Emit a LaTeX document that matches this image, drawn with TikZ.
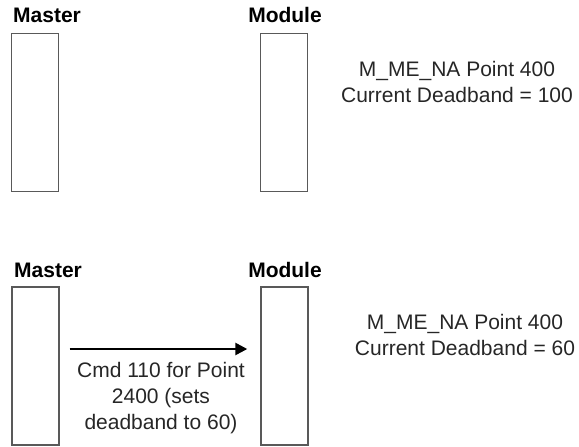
\documentclass[tikz,border=0pt]{standalone}
\usepackage{fontspec}
\setmainfont{Liberation Sans}
\usetikzlibrary{arrows.meta}

\begin{document}
\begin{tikzpicture}[x=1pt,y=-1pt,
  unit/.style={draw=black!65,line width=1.4pt,minimum width=47pt,minimum height=158pt,inner sep=0pt},
  role/.style={font=\fontsize{21}{26}\selectfont\bfseries,inner sep=0pt},
  note/.style={font=\fontsize{21}{26}\selectfont,align=center,inner sep=0pt,text=black!85},
  cmd/.style={line width=2.5pt,-{Triangle[length=12pt,width=12pt]}}]
\useasboundingbox (0,0) rectangle (579,447);
%%%%%%%%%%%%%%%%%%%% before the command %%%%%%%%%%%%%%%%%%%%
\node[unit] (mastA) at (35,112.5) {};
\node[unit] (modA) at (284,112.5) {};
\node[role,anchor=base west] (mastAlbl) at (13,22) {Master};
\node[role,anchor=base] (modAlbl) at (285,22) {Module};
\node[note] (stateA) at (457,82) {M\_ME\_NA Point 400\\Current Deadband = 100};
%%%%%%%%%%%%%%%%%%%% after the command %%%%%%%%%%%%%%%%%%%%
\node[unit] (mastB) at (35.5,366) {};
\node[unit] (modB) at (284.5,366) {};
\node[role,anchor=base west] (mastBlbl) at (14,277) {Master};
\node[role,anchor=base] (modBlbl) at (285,277) {Module};
\node[note] (stateB) at (465,334.5) {M\_ME\_NA Point 400\\Current Deadband = 60};
\draw[cmd,shorten <=10pt,shorten >=13pt] ([yshift=17pt]mastB.east) -- ([yshift=17pt]modB.west);
\node[note] (cmdlbl) at (161,398.5) {Cmd 110 for Point\\2400 (sets\\deadband to 60)};
\end{tikzpicture}
\end{document}
